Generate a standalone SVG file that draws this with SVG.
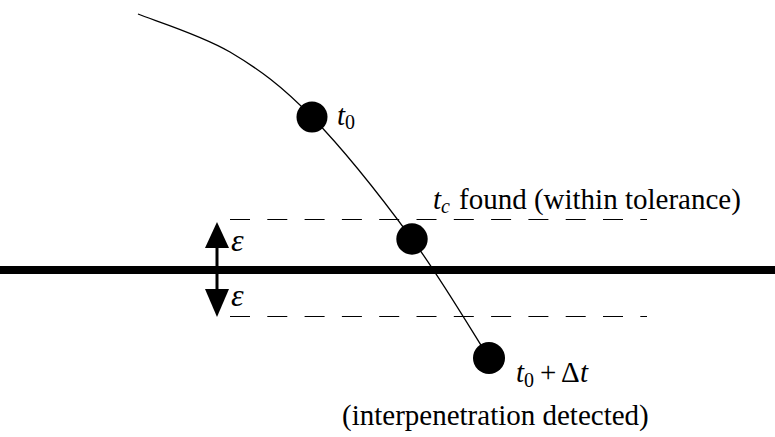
<svg xmlns="http://www.w3.org/2000/svg" width="775" height="437" viewBox="0 0 775 437">
<style>
.txt{font-family:"Liberation Serif","Times New Roman",serif;font-size:29px;fill:#000}
.it{font-style:italic}
.sub{font-size:20px}
.eps{font-size:32px}
.dash{stroke:#000;stroke-width:1.2;stroke-dasharray:20 17.3;fill:none}
.pt{fill:#000}
</style>
<rect width="775" height="437" fill="#fff"/>
<g id="connectors">
<path id="trajectory" d="M138,14 C153.3,20.3 201,34.8 230,52 C259,69.2 281.7,85.8 312,117 C342.3,148.2 382.5,198.8 412,239 C441.5,279.2 476.2,338.2 489,358" fill="none" stroke="#000" stroke-width="1.3"/>
<line id="surface" x1="0" y1="270" x2="775" y2="270" stroke="#000" stroke-width="8"/>
<line class="dash" x1="230" y1="219.5" x2="647" y2="219.5"/>
<line class="dash" x1="230" y1="316.5" x2="647" y2="316.5"/>
<g id="epsilon-arrows">
<line x1="217" y1="245" x2="217" y2="290" stroke="#000" stroke-width="3"/>
<polygon points="217,222 205,248 229,248" fill="#000"/>
<polygon points="217,317 205,289 229,289" fill="#000"/>
</g>
</g>
<g id="node-t0">
<circle class="pt" cx="312" cy="117" r="15.5"/>
<text class="txt it" x="337" y="125">t</text>
<text class="txt sub" x="345" y="129">0</text>
</g>
<g id="node-tc">
<circle class="pt" cx="412" cy="239" r="15.7"/>
<text class="txt it" x="433" y="209">t</text>
<text class="txt it sub" x="441" y="213">c</text>
<text class="txt" x="459" y="209">found (within tolerance)</text>
</g>
<g id="node-t0dt">
<circle class="pt" cx="489" cy="358" r="16"/>
<text class="txt it" x="516" y="382">t</text>
<text class="txt sub" x="524" y="387">0</text>
<text class="txt" x="540" y="382">+</text>
<text class="txt" x="561" y="382">Δ</text>
<text class="txt it" x="580" y="382">t</text>
<text class="txt" x="342" y="425">(interpenetration detected)</text>
</g>
<g id="labels-epsilon">
<text class="txt it eps" x="231" y="251">ε</text>
<text class="txt it eps" x="231" y="306">ε</text>
</g>
</svg>
